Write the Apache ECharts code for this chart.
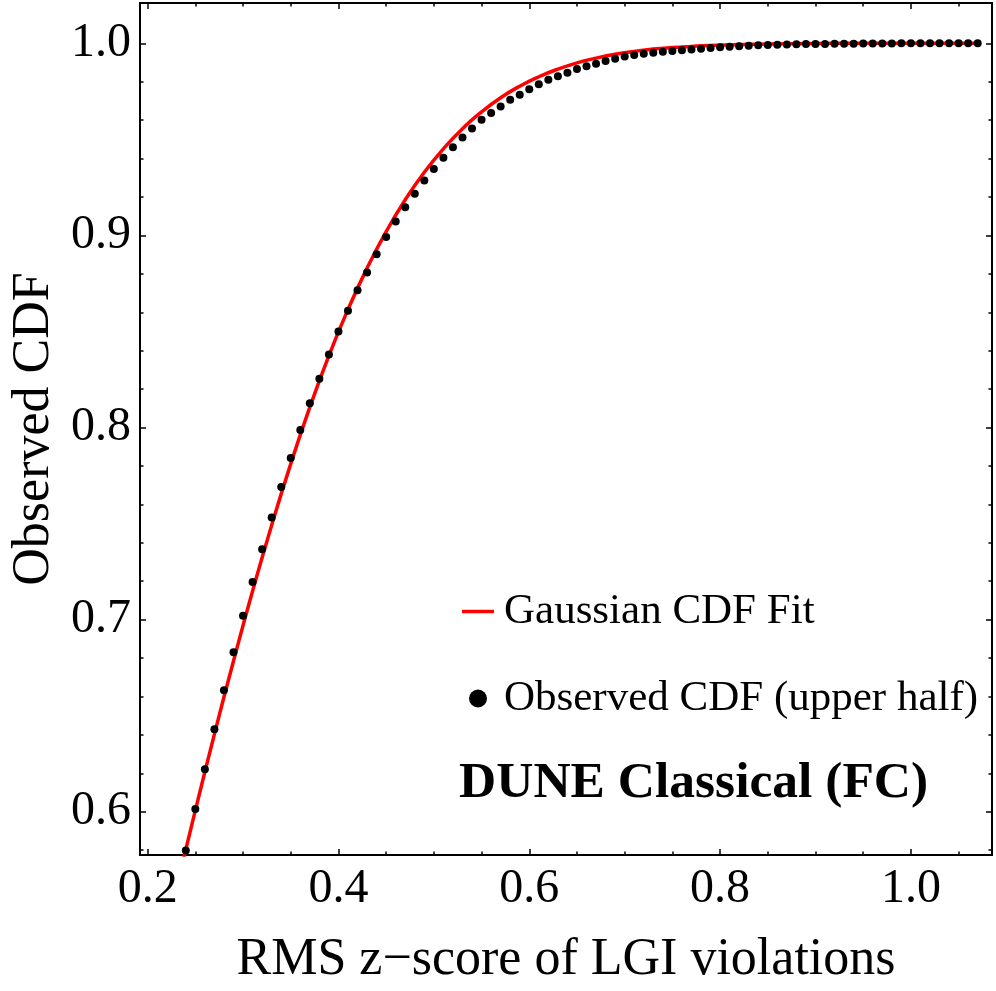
<!DOCTYPE html>
<html>
<head>
<meta charset="utf-8">
<script src="https://cdn.jsdelivr.net/npm/echarts@6/dist/echarts.min.js"></script>
<style>
  html, body { margin: 0; padding: 0; background: #fff; }
  #chart { width: 996px; height: 991px; }
</style>
</head>
<body>
<div id="chart"></div>
<script>
// observed CDF points (upper half)
const obsX = [
  0.24, 0.25, 0.26, 0.27, 0.28, 0.29, 0.30, 0.31, 0.32, 0.33,
  0.34, 0.35, 0.36, 0.37, 0.38, 0.39, 0.40, 0.41, 0.42, 0.43,
  0.44, 0.45, 0.46, 0.47, 0.48, 0.49, 0.50, 0.51, 0.52, 0.53,
  0.54, 0.55, 0.56, 0.57, 0.58, 0.59, 0.60, 0.61, 0.62, 0.63,
  0.64, 0.65, 0.66, 0.67, 0.68, 0.69, 0.70, 0.71, 0.72, 0.73,
  0.74, 0.75, 0.76, 0.77, 0.78, 0.79, 0.80, 0.81, 0.82, 0.83,
  0.84, 0.85, 0.86, 0.87, 0.88, 0.89, 0.90, 0.91, 0.92, 0.93,
  0.94, 0.95, 0.96, 0.97, 0.98, 0.99, 1.00, 1.01, 1.02, 1.03,
  1.04, 1.05, 1.06, 1.07
];
const obsY = [
  0.5799, 0.6015, 0.6222, 0.6429, 0.6632, 0.6831, 0.7021, 0.7196, 0.7367, 0.7532,
  0.7690, 0.7841, 0.7987, 0.8126, 0.8254, 0.8380, 0.8500, 0.8608, 0.8715, 0.8807,
  0.8902, 0.8992, 0.9072, 0.9147, 0.9217, 0.9286, 0.9346, 0.9405, 0.9459, 0.9510,
  0.9557, 0.9602, 0.9637, 0.9671, 0.9706, 0.9733, 0.9761, 0.9787, 0.9810, 0.9829,
  0.9847, 0.9867, 0.9881, 0.9894, 0.9908, 0.9920, 0.9931, 0.9939, 0.9946, 0.9951,
  0.9956, 0.9960, 0.9964, 0.9968, 0.9972, 0.9976, 0.9980, 0.9982, 0.9985, 0.9987,
  0.9990, 0.9992, 0.9993, 0.9994, 0.9995, 0.9996, 0.9997, 0.9997, 0.9998, 0.9998,
  0.9998, 0.9999, 0.9999, 0.9999, 0.9999, 1.0000, 1.0000, 1.0000, 1.0000, 1.0000,
  1.0000, 1.0000, 1.0000, 1.0000
];

// gaussian CDF fit curve
const fitX = [
  0.23, 0.25, 0.27, 0.29, 0.31, 0.33, 0.35, 0.37, 0.39, 0.41,
  0.43, 0.45, 0.47, 0.49, 0.51, 0.53, 0.55, 0.57, 0.59, 0.61,
  0.63, 0.65, 0.67, 0.69, 0.71, 0.73, 0.75, 0.77, 0.79, 0.81,
  0.83, 0.85, 0.90, 0.95, 1.00, 1.07
];
const fitY = [
  0.5600, 0.6007, 0.6404, 0.6785, 0.7149, 0.7492, 0.7811, 0.8106, 0.8375, 0.8615,
  0.8830, 0.9020, 0.9186, 0.9329, 0.9451, 0.9556, 0.9643, 0.9717, 0.9777, 0.9826,
  0.9866, 0.9898, 0.9923, 0.9943, 0.9958, 0.9970, 0.9978, 0.9984, 0.9989, 0.9992,
  0.9995, 0.9996, 0.9999, 1.0000, 1.0000, 1.0000
];

const xMajorTicks = [0.2, 0.4, 0.6, 0.8, 1.0];
const xMinorTicks = [0.25, 0.3, 0.35, 0.45, 0.5, 0.55, 0.65, 0.7, 0.75, 0.85, 0.9, 0.95, 1.05];
const yMajorTicks = [0.6, 0.7, 0.8, 0.9, 1.0];
const yMinorTicks = [0.58, 0.62, 0.64, 0.66, 0.68, 0.72, 0.74, 0.76, 0.78,
  0.82, 0.84, 0.86, 0.88, 0.92, 0.94, 0.96, 0.98];

const xRange = [0.192, 1.085];
const yRange = [0.5775, 1.021];

const serif = '"Liberation Serif", "Times New Roman", serif';

function tickAxis(dim, position, ticks, len, labels) {
  const ax = {
    type: 'value',
    position: position,
    min: dim === 'x' ? xRange[0] : yRange[0],
    max: dim === 'x' ? xRange[1] : yRange[1],
    axisLine: { show: false },
    splitLine: { show: false },
    axisTick: {
      inside: true,
      length: len,
      customValues: ticks,
      lineStyle: { color: '#000', width: 1.5 },
    },
    axisLabel: { show: false },
  };
  if (labels) {
    ax.axisLabel = {
      show: true,
      customValues: ticks,
      formatter: (v) => v.toFixed(1),
      color: '#000',
      fontFamily: serif,
      fontSize: 48,
      margin: dim === 'x' ? 10 : 9,
    };
  }
  return ax;
}

const xMain = tickAxis('x', 'bottom', xMajorTicks, 6, true);
xMain.name = 'RMS z\u2212score of LGI violations';
xMain.nameLocation = 'middle';
xMain.nameGap = 79;
xMain.nameTextStyle = { color: '#000', fontFamily: serif, fontSize: 52 };

const yMain = tickAxis('y', 'left', yMajorTicks, 6, true);
yMain.name = 'Observed CDF';
yMain.nameLocation = 'middle';
yMain.nameGap = 80;
yMain.nameTextStyle = { color: '#000', fontFamily: serif, fontSize: 52 };

const chart = echarts.init(document.getElementById('chart'), null, { renderer: 'canvas' });

chart.setOption({
  animation: false,
  backgroundColor: '#fff',
  grid: {
    left: 137,
    right: 4,
    top: 3,
    bottom: 133,
    show: true,
    borderColor: '#000',
    borderWidth: 2,
    backgroundColor: 'transparent',
  },
  legend: {
    orient: 'vertical',
    left: 457,
    top: 585,
    itemWidth: 32,
    itemHeight: 18,
    itemGap: 44,
    textStyle: {
      color: '#000',
      fontFamily: serif,
      fontSize: 43,
      lineHeight: 43,
      padding: [0, 0, 0, 5],
    },
    data: [
      { name: 'Gaussian CDF Fit', icon: 'path://M0,0L32,0L32,3.5L0,3.5Z' },
      { name: 'Observed CDF (upper half)', icon: 'circle' },
    ],
  },
  xAxis: [
    xMain,
    tickAxis('x', 'bottom', xMinorTicks, 3.5, false),
    tickAxis('x', 'top', xMajorTicks, 6, false),
    tickAxis('x', 'top', xMinorTicks, 3.5, false),
  ],
  yAxis: [
    yMain,
    tickAxis('y', 'left', yMinorTicks, 3.5, false),
    tickAxis('y', 'right', yMajorTicks, 6, false),
    tickAxis('y', 'right', yMinorTicks, 3.5, false),
  ],
  graphic: [
    {
      type: 'text',
      style: {
        x: 459,
        y: 784,
        text: 'DUNE Classical (FC)',
        fill: '#000',
        font: 'bold 51.5px ' + serif,
        verticalAlign: 'middle',
      },
    },
  ],
  series: [
    {
      name: 'Gaussian CDF Fit',
      type: 'line',
      data: fitX.map((x, i) => [x, fitY[i]]),
      smooth: true,
      symbol: 'none',
      clip: true,
      lineStyle: { color: '#ff0000', width: 3.5 },
      itemStyle: { color: '#ff0000' },
      z: 2,
    },
    {
      name: 'Observed CDF (upper half)',
      type: 'scatter',
      data: obsX.map((x, i) => [x, obsY[i]]),
      symbolSize: 8,
      clip: true,
      itemStyle: { color: '#000', opacity: 1 },
      z: 3,
    },
  ],
});
</script>
</body>
</html>
